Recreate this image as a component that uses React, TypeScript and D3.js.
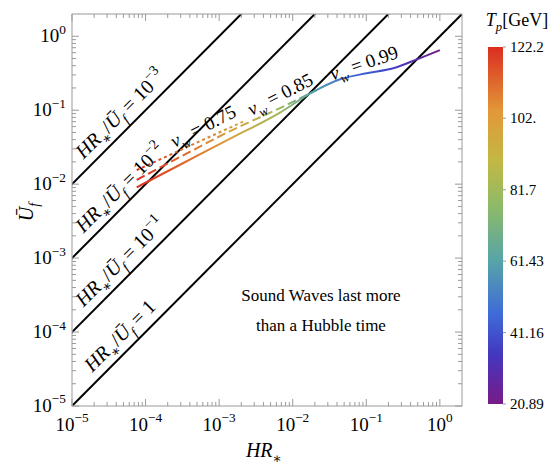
import { useEffect, useRef } from 'react'
import * as d3 from 'd3'

const W = 552
const H = 467

// reference lines HR*/Uf = c
const ratios = [1e-3, 1e-2, 1e-1, 1]
const ratioBase = ['10', '10', '10', '1']
const ratioExp = ['−3', '−2', '−1', '']

// v_w = 0.75 (dotted)
const hr075 = [7.57e-5, 2.94e-4, 2.11e-3]
const uf075 = [1.55e-2, 2.87e-2, 7.0e-2]
const tp075 = [122.2, 112, 96]

// v_w = 0.85 (dashed)
const hr085 = [7.57e-5, 2.94e-4, 1.41e-3, 6.72e-3, 2.12e-2]
const uf085 = [1.14e-2, 2.33e-2, 5.22e-2, 0.107, 0.1875]
const tp085 = [122.2, 113, 100, 81, 58]

// v_w = 0.99 (solid)
const hr099 = [7.57e-5, 2.94e-4, 1.41e-3, 6.72e-3, 1.78e-2, 4.4e-2, 0.101, 0.233, 0.5, 1.0]
const uf099 = [9.06e-3, 1.83e-2, 4.12e-2, 9.29e-2, 0.171, 0.262, 0.316, 0.369, 0.492, 0.65]
const tp099 = [122.2, 113, 100, 81, 62, 50, 43, 37, 29, 20.89]

const decades = [-5, -4, -3, -2, -1, 0]
const tpTicks = [20.89, 41.16, 61.43, 81.7, 102, 122.2]
const tpTickLabels = ['20.89', '41.16', '61.43', '81.7', '102.', '122.2']

// Mathematica-like "Rainbow"
const rainbowPos = [0, 0.14, 0.25, 0.4, 0.55, 0.68, 0.82, 1]
const rainbowCol = ['#781b86', '#4337c0', '#3f6ad8', '#56a4a8', '#8cba6a', '#c2b844', '#e29838', '#db2d20']

const FONT = '"Liberation Serif", "DejaVu Serif", "Times New Roman", serif'

type Part = { t: string; it?: boolean; sub?: boolean; sup?: boolean }

function rich(sel: any, parts: Part[], size: number) {
  let shift = 0
  parts.forEach((p) => {
    const target = p.sub ? size * 0.3 : p.sup ? -size * 0.45 : 0
    const ts = sel.append('tspan').text(p.t).attr('dy', target - shift)
    shift = target
    if (p.it) ts.style('font-style', 'italic')
    if (p.sub || p.sup) ts.style('font-size', `${size * 0.7}px`)
  })
}

const App = () => {
  const svgRef = useRef<SVGSVGElement>(null)

  useEffect(() => {
    if (!svgRef.current) return
    const svg = d3.select(svgRef.current)
    svg.selectAll('*').remove()

    const left = 72, right = 462, top = 14, bottom = 406
    const x = d3.scaleLog().domain([1e-5, 2]).range([left, right])
    const y = d3.scaleLog().domain([1e-5, 2]).range([bottom, top])

    const tpMin = 20.89, tpMax = 122.2
    const color = d3
      .scaleLinear<string>()
      .domain(rainbowPos.map((p) => tpMin + p * (tpMax - tpMin)))
      .range(rainbowCol)
      .interpolate(d3.interpolateRgb)

    const txt = (sel: any, size: number) =>
      sel.style('font-family', FONT).style('font-size', `${size}px`)

    const defs = svg.append('defs')
    defs.append('clipPath').attr('id', 'plotclip')
      .append('rect').attr('x', left).attr('y', top).attr('width', right - left).attr('height', bottom - top)

    const plot = svg.append('g').attr('clip-path', 'url(#plotclip)')

    // diagonal lines
    ratios.forEach((c) => {
      plot.append('line')
        .attr('x1', x(1e-6)).attr('y1', y(1e-6 / c))
        .attr('x2', x(10)).attr('y2', y(10 / c))
        .attr('stroke', '#000').attr('stroke-width', 2)
    })

    // curves
    const curves = [
      { hr: hr075, uf: uf075, tp: tp075, dash: '3,3' },
      { hr: hr085, uf: uf085, tp: tp085, dash: '9,4' },
      { hr: hr099, uf: uf099, tp: tp099, dash: null },
    ]
    const line = d3.line<[number, number]>().x((d) => x(d[0])).y((d) => y(d[1])).curve(d3.curveMonotoneX)
    curves.forEach((cv, i) => {
      const x1 = x(cv.hr[0]), x2 = x(cv.hr[cv.hr.length - 1])
      const grad = defs.append('linearGradient').attr('id', `grad${i}`)
        .attr('gradientUnits', 'userSpaceOnUse')
        .attr('x1', x1).attr('x2', x2).attr('y1', 0).attr('y2', 0)
      cv.hr.forEach((h, j) => {
        grad.append('stop').attr('offset', (x(h) - x1) / (x2 - x1)).attr('stop-color', color(cv.tp[j]))
      })
      const pts = cv.hr.map((h, j) => [h, cv.uf[j]] as [number, number])
      const p = plot.append('path').attr('d', line(pts))
        .attr('fill', 'none').attr('stroke', `url(#grad${i})`).attr('stroke-width', 2)
      if (cv.dash) p.attr('stroke-dasharray', cv.dash)
    })

    // frame & ticks
    const frameCol = '#9a9a9a'
    svg.append('rect').attr('x', left).attr('y', top).attr('width', right - left).attr('height', bottom - top)
      .attr('fill', 'none').attr('stroke', frameCol).attr('stroke-width', 1)
    const tickG = svg.append('g').attr('stroke', frameCol).attr('stroke-width', 1)
    decades.forEach((d) => {
      for (let k = 1; k <= 9; k++) {
        const v = k * Math.pow(10, d)
        if (v >= 2) continue
        const len = k === 1 ? 7 : 4
        const px = x(v), py = y(v)
        tickG.append('line').attr('x1', px).attr('x2', px).attr('y1', bottom).attr('y2', bottom - len)
        tickG.append('line').attr('x1', px).attr('x2', px).attr('y1', top).attr('y2', top + len)
        tickG.append('line').attr('y1', py).attr('y2', py).attr('x1', left).attr('x2', left + len)
        tickG.append('line').attr('y1', py).attr('y2', py).attr('x1', right).attr('x2', right - len)
      }
    })

    const tickSize = 19
    decades.forEach((d) => {
      const exp = d < 0 ? `−${-d}` : `${d}`
      const tx = txt(svg.append('text').attr('x', x(Math.pow(10, d))).attr('y', 431)
        .attr('text-anchor', 'middle'), tickSize)
      rich(tx, [{ t: '10' }, { t: exp, sup: true }], tickSize)
      const ty = txt(svg.append('text').attr('x', 66).attr('y', y(Math.pow(10, d)) + 6)
        .attr('text-anchor', 'end'), tickSize)
      rich(ty, [{ t: '10' }, { t: exp, sup: true }], tickSize)
    })

    // axis titles
    const xt = txt(svg.append('text').attr('x', 264).attr('y', 457).attr('text-anchor', 'middle'), 20)
    rich(xt, [{ t: 'HR', it: true }, { t: '∗', sub: true }], 20)
    const yt = txt(svg.append('text').attr('transform', 'translate(33,212) rotate(-90)')
      .attr('text-anchor', 'middle'), 20)
    rich(yt, [{ t: 'Ū', it: true }, { t: 'f', it: true, sub: true }], 20)

    // diagonal labels
    const lblSize = 20
    ratios.forEach((c, i) => {
      const cx = 131
      const hx = x.invert(cx)
      const cy = y(hx / c)
      const d = 9
      const t = txt(svg.append('text')
        .attr('transform', `translate(${cx - d / Math.SQRT2},${cy - d / Math.SQRT2}) rotate(-45)`)
        .attr('text-anchor', 'middle'), lblSize)
      const parts: Part[] = [
        { t: 'HR', it: true }, { t: '∗', sub: true }, { t: '/' }, { t: 'Ū', it: true }, { t: 'f', it: true, sub: true },
        { t: ' = ' + ratioBase[i] },
      ]
      if (ratioExp[i]) parts.push({ t: ratioExp[i], sup: true })
      rich(t, parts, lblSize)
    })

    // v_w labels
    const vwLabels = [
      { v: '0.75', cx: 206, cy: 132, a: -27 },
      { v: '0.85', cx: 283, cy: 100, a: -27 },
      { v: '0.99', cx: 366, cy: 69, a: -19 },
    ]
    vwLabels.forEach((l) => {
      const t = txt(svg.append('text').attr('transform', `translate(${l.cx},${l.cy}) rotate(${l.a})`)
        .attr('text-anchor', 'middle'), 19)
      rich(t, [{ t: 'v', it: true }, { t: 'w', it: true, sub: true }, { t: ' = ' + l.v }], 19)
    })

    // annotation
    txt(svg.append('text').attr('x', 321).attr('y', 301).attr('text-anchor', 'middle'), 17)
      .text('Sound Waves last more')
    txt(svg.append('text').attr('x', 321).attr('y', 331).attr('text-anchor', 'middle'), 17)
      .text('than a Hubble time')

    // colour bar
    const barX = 488, barW = 15, barTop = 47, barBot = 404
    const cy = d3.scaleLinear().domain([tpMin, tpMax]).range([barBot, barTop])
    const bg = defs.append('linearGradient').attr('id', 'bargrad')
      .attr('x1', 0).attr('x2', 0).attr('y1', 1).attr('y2', 0)
    rainbowPos.forEach((p, i) => bg.append('stop').attr('offset', p).attr('stop-color', rainbowCol[i]))
    svg.append('rect').attr('x', barX).attr('y', barTop).attr('width', barW).attr('height', barBot - barTop)
      .attr('fill', 'url(#bargrad)')
    tpTicks.forEach((v, i) => {
      svg.append('line').attr('x1', barX + barW).attr('x2', barX + barW + 3)
        .attr('y1', cy(v)).attr('y2', cy(v)).attr('stroke', '#999')
      txt(svg.append('text').attr('x', barX + barW + 7).attr('y', cy(v) + 5), 15).text(tpTickLabels[i])
    })
    const ct = txt(svg.append('text').attr('x', 517).attr('y', 26).attr('text-anchor', 'middle'), 18)
    rich(ct, [{ t: 'T', it: true }, { t: 'p', it: true, sub: true }, { t: '[GeV]' }], 18)
  }, [])

  return (
    <svg
      ref={svgRef}
      width={W}
      height={H}
      style={{ position: 'absolute', left: 0, top: 0, background: '#fff' }}
    />
  )
}

export default App
